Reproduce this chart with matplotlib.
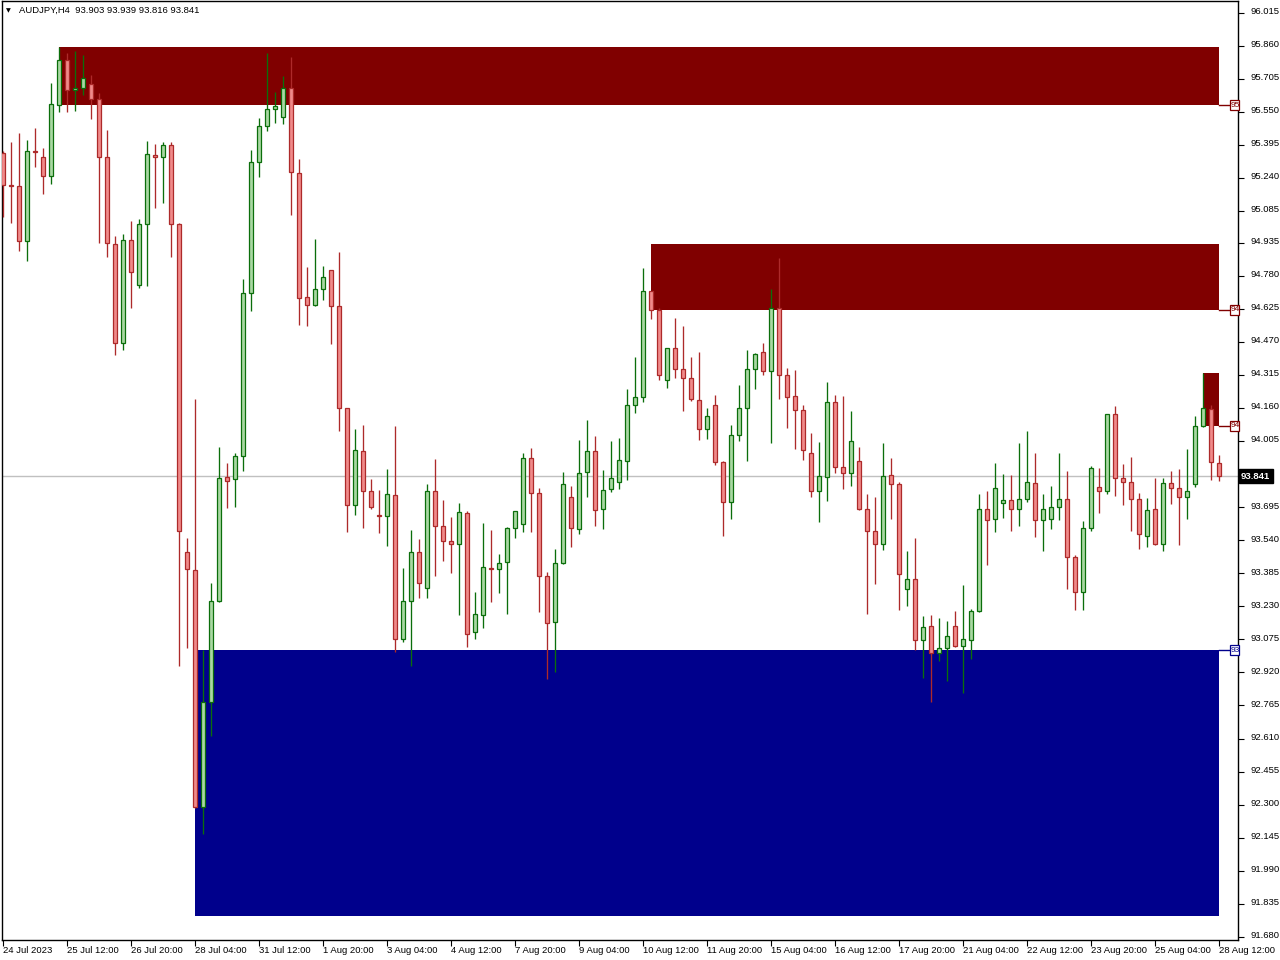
import numpy as np
import matplotlib
matplotlib.use("Agg")
import matplotlib.pyplot as plt
from matplotlib.patches import Rectangle
import matplotlib.transforms as mtransforms

plt.rcParams['font.family'] = ['Liberation Sans', 'DejaVu Sans']

symbol = "AUDJPY,H4"
last_ohlc = [93.903, 93.939, 93.816, 93.841]
current_price = 93.841

opens = [95.354, 95.207, 95.200, 94.942, 95.365, 95.336, 95.247, 95.580, 95.791, 95.650,
         95.659, 95.678, 95.608, 95.336, 94.931, 94.466, 94.946, 94.739, 95.025, 95.348,
         95.339, 95.392, 95.025, 93.486, 93.402, 92.288, 92.779, 93.254, 93.835, 93.826,
         93.933, 94.699, 95.315, 95.481, 95.561, 95.523, 95.659, 95.262, 94.679, 94.642,
         94.717, 94.806, 94.637, 94.159, 93.704, 93.957, 93.769, 93.658, 93.652, 93.750,
         93.075, 93.253, 93.483, 93.314, 93.769, 93.605, 93.535, 93.521, 93.666, 93.108,
         93.188, 93.411, 93.403, 93.436, 93.596, 93.614, 93.924, 93.760, 93.371, 93.155,
         93.432, 93.743, 93.591, 93.860, 93.957, 93.685, 93.779, 93.811, 93.910, 94.173,
         94.210, 94.709, 94.618, 94.290, 94.440, 94.341, 94.299, 94.196, 94.060, 94.173,
         93.905, 93.719, 94.032, 94.159, 94.341, 94.421, 94.332, 94.628, 94.313, 94.215,
         94.149, 93.947, 93.769, 93.835, 94.187, 93.883, 93.855, 93.910, 93.685, 93.582,
         93.521, 93.844, 93.802, 93.310, 93.357, 93.070, 93.136, 93.009, 93.033, 93.136,
         93.042, 93.070, 93.206, 93.685, 93.638, 93.713, 93.727, 93.685, 93.732, 93.807,
         93.633, 93.638, 93.694, 93.732, 93.461, 93.296, 93.596, 93.788, 93.769, 94.130,
         93.830, 93.811, 93.732, 93.558, 93.685, 93.521, 93.807, 93.783, 93.743, 93.802,
         94.074, 94.154, 93.903]

highs = [95.365, 95.407, 95.450, 95.417, 95.473, 95.379, 95.684, 95.854, 95.823, 95.833,
         95.815, 95.722, 95.636, 95.464, 94.965, 94.976, 95.039, 95.048, 95.412, 95.398,
         95.407, 95.407, 95.030, 93.550, 94.202, 93.027, 93.338, 93.977, 93.901, 93.947,
         94.765, 95.370, 95.519, 95.823, 95.643, 95.717, 95.805, 95.328, 94.821, 94.951,
         94.825, 94.808, 94.890, 94.162, 94.060, 94.080, 93.826, 93.775, 93.874, 94.075,
         93.408, 93.586, 93.544, 93.802, 93.919, 93.727, 93.649, 93.713, 93.677, 93.295,
         93.619, 93.588, 93.474, 93.600, 93.677, 93.949, 93.971, 93.783, 93.389, 93.497,
         93.860, 93.793, 94.008, 94.102, 94.027, 93.869, 94.004, 94.018, 94.248, 94.398,
         94.817, 94.711, 94.628, 94.442, 94.581, 94.543, 94.400, 94.424, 94.159, 94.219,
         93.910, 94.079, 94.266, 94.431, 94.416, 94.463, 94.717, 94.863, 94.348, 94.337,
         94.173, 94.041, 93.999, 94.280, 94.219, 94.215, 94.144, 93.976, 93.755, 93.743,
         93.994, 93.924, 93.811, 93.488, 93.549, 93.183, 93.188, 93.174, 93.160, 93.206,
         93.328, 93.216, 93.755, 93.769, 93.901, 93.849, 93.844, 93.994, 94.051, 93.947,
         93.755, 93.793, 93.947, 93.863, 93.470, 93.629, 93.888, 93.879, 94.132, 94.169,
         93.896, 93.929, 93.760, 93.736, 93.830, 93.830, 93.863, 93.874, 93.966, 94.121,
         94.324, 94.173, 93.939]

lows = [95.057, 95.029, 94.898, 94.851, 95.292, 95.165, 95.212, 95.550, 95.550, 95.554,
        95.629, 95.517, 94.935, 94.868, 94.407, 94.430, 94.628, 94.721, 94.734, 95.100,
        95.123, 94.866, 92.948, 93.036, 92.284, 92.161, 92.620, 93.250, 93.691, 93.697,
        93.864, 94.616, 95.245, 95.460, 95.498, 95.493, 95.066, 94.551, 94.546, 94.640,
        94.668, 94.460, 94.053, 93.580, 93.660, 93.599, 93.685, 93.575, 93.514, 93.017,
        93.064, 92.951, 93.269, 93.269, 93.373, 93.444, 93.387, 93.191, 93.040, 93.078,
        93.130, 93.251, 93.294, 93.195, 93.551, 93.580, 93.580, 93.205, 92.890, 92.923,
        93.430, 93.509, 93.570, 93.743, 93.608, 93.594, 93.765, 93.779, 93.821, 94.135,
        94.187, 94.579, 94.293, 94.254, 94.302, 94.147, 94.191, 94.008, 94.016, 93.891,
        93.561, 93.638, 94.004, 93.910, 94.251, 94.313, 93.994, 94.204, 94.065, 93.969,
        93.915, 93.743, 93.624, 93.722, 93.855, 93.779, 93.793, 93.680, 93.192, 93.333,
        93.493, 93.638, 93.215, 93.233, 93.024, 92.892, 92.780, 92.972, 92.882, 93.038,
        92.823, 92.984, 93.203, 93.422, 93.577, 93.643, 93.582, 93.605, 93.720, 93.556,
        93.491, 93.594, 93.636, 93.312, 93.211, 93.214, 93.582, 93.669, 93.755, 93.749,
        93.706, 93.584, 93.500, 93.507, 93.519, 93.488, 93.711, 93.519, 93.638, 93.789,
        94.070, 93.821, 93.816]

closes = [95.206, 95.201, 94.942, 95.364, 95.361, 95.247, 95.584, 95.791, 95.650, 95.659,
          95.706, 95.608, 95.336, 94.932, 94.465, 94.946, 94.796, 95.021, 95.353, 95.339,
          95.392, 95.025, 93.582, 93.404, 92.288, 92.779, 93.257, 93.834, 93.816, 93.933,
          94.699, 95.312, 95.481, 95.561, 95.575, 95.659, 95.265, 94.674, 94.642, 94.717,
          94.773, 94.637, 94.159, 93.704, 93.962, 93.769, 93.694, 93.653, 93.755, 93.075,
          93.253, 93.483, 93.338, 93.769, 93.605, 93.535, 93.521, 93.671, 93.099, 93.192,
          93.413, 93.406, 93.434, 93.596, 93.675, 93.924, 93.760, 93.371, 93.150, 93.432,
          93.802, 93.596, 93.855, 93.957, 93.680, 93.774, 93.830, 93.915, 94.173, 94.210,
          94.709, 94.618, 94.313, 94.440, 94.341, 94.299, 94.201, 94.060, 94.121, 93.905,
          93.719, 94.032, 94.159, 94.341, 94.412, 94.332, 94.628, 94.313, 94.210, 94.149,
          93.962, 93.769, 93.840, 94.187, 93.883, 93.855, 94.004, 93.685, 93.582, 93.521,
          93.840, 93.802, 93.380, 93.357, 93.070, 93.131, 93.009, 93.033, 93.089, 93.042,
          93.075, 93.206, 93.685, 93.633, 93.783, 93.727, 93.685, 93.732, 93.811, 93.633,
          93.685, 93.694, 93.732, 93.461, 93.296, 93.596, 93.879, 93.769, 94.130, 93.830,
          93.811, 93.732, 93.568, 93.680, 93.521, 93.807, 93.783, 93.743, 93.769, 94.074,
          94.159, 93.905, 93.841]

date_labels = ["24 Jul 2023", "25 Jul 12:00", "26 Jul 20:00", "28 Jul 04:00", "31 Jul 12:00",
               "1 Aug 20:00", "3 Aug 04:00", "4 Aug 12:00", "7 Aug 20:00", "9 Aug 04:00",
               "10 Aug 12:00", "11 Aug 20:00", "15 Aug 04:00", "16 Aug 12:00", "17 Aug 20:00",
               "21 Aug 04:00", "22 Aug 12:00", "23 Aug 20:00", "25 Aug 04:00", "28 Aug 12:00"]
date_label_bars = [0, 8, 16, 24, 32, 40, 48, 56, 64, 72, 80, 88, 96, 104, 112, 120, 128, 136, 144, 152]

price_ticks = [96.015, 95.860, 95.705, 95.550, 95.395, 95.240, 95.085, 94.935, 94.780, 94.625,
               94.470, 94.315, 94.160, 94.005, 93.695, 93.540, 93.385, 93.230, 93.075, 92.920,
               92.765, 92.610, 92.455, 92.300, 92.145, 91.990, 91.835, 91.680]

# zones: (start bar, low price, high price)
supply_zones = [(7, 95.580, 95.851), (81, 94.621, 94.929), (150, 94.077, 94.323)]
demand_zones = [(24, 91.777, 93.025)]

# ---------------- figure ----------------
W, H = 1280, 960
fig = plt.figure(figsize=(12.8, 9.6), dpi=100, facecolor='white')
ax_l, ax_r, ax_t, ax_b = 2, 1238, 1, 940
ax = fig.add_axes([ax_l / W, (H - ax_b) / H, (ax_r - ax_l) / W, (ax_b - ax_t) / H])
ax.set_facecolor('white')

n = len(opens)
x = np.arange(n)
o = np.array(opens); h = np.array(highs); l = np.array(lows); c = np.array(closes)
up = c >= o

bull_fill, bull_edge = '#a9d8a3', '#0b6e0b'
bear_fill, bear_edge = '#f08a8a', '#ad2a2a'
supply_col, demand_col = '#800000', '#00008c'

last_bar = n - 1
for start, lo, hi in supply_zones:
    ax.add_patch(Rectangle((start, lo), last_bar - start, hi - lo, facecolor=supply_col,
                           edgecolor='none', zorder=1))
for start, lo, hi in demand_zones:
    ax.add_patch(Rectangle((start, lo), last_bar - start, hi - lo, facecolor=demand_col,
                           edgecolor='none', zorder=1))

ax.axhline(current_price, color='#c0c0c0', lw=1.0, zorder=2)

edges = np.where(up, bull_edge, bear_edge)
fills = np.where(up, bull_fill, bear_fill)
ax.vlines(x, l, h, colors=edges, lw=0.95, zorder=3)
body_h = np.maximum(np.abs(c - o), 0.003)
body_b = np.minimum(o, c)
ax.bar(x, body_h, bottom=body_b, width=0.5, color=fills, edgecolor=edges,
       linewidth=0.9, zorder=4)

ax.set_xlim((ax_l - 3.3) / 8.0, (ax_r - 3.3) / 8.0)
ax.set_ylim(91.665, 96.069)

for s in ax.spines.values():
    s.set_color('black')
    s.set_linewidth(1.0)

ax.yaxis.tick_right()
ax.set_yticks(price_ticks)
ax.set_yticklabels([f"{p:.3f}" for p in price_ticks])
ax.tick_params(axis='y', direction='out', length=4, width=0.8, pad=5, labelsize=6.8,
               colors='black')
ax.set_xticks(date_label_bars)
ax.set_xticklabels(date_labels, ha='left')
ax.tick_params(axis='x', direction='out', length=4, width=0.8, pad=0.5, labelsize=6.8,
               colors='black')
shift_up = mtransforms.ScaledTranslation(0, 1.5 / 72, fig.dpi_scale_trans)
for lab in ax.get_yticklabels():
    lab.set_transform(lab.get_transform() + shift_up)

blend = mtransforms.blended_transform_factory(ax.transAxes, ax.transData)

def px_ax(px):
    return (px - ax_l) / (ax_r - ax_l)

# current price label
ax.text(px_ax(1241), current_price, f"{current_price:.3f}", transform=blend, ha='left',
        va='center', color='white', fontsize=6.8, fontweight='bold', clip_on=False,
        bbox=dict(boxstyle='square,pad=0.25', facecolor='black', edgecolor='black'), zorder=10)

# zone line labels (price labels partially hidden behind the price scale)
line_prices = [(z[1], supply_col) for z in supply_zones] + [(z[2], demand_col) for z in demand_zones]
for price, col in line_prices:
    ax.plot([last_bar, (1230 - 3.3) / 8.0], [price, price], color=col, lw=1.0,
            zorder=5, clip_on=False)
    rect = Rectangle((px_ax(1230), price - 0.0235), px_ax(1239) - px_ax(1230), 0.047,
                     transform=blend, facecolor='white', edgecolor=col, lw=0.9,
                     clip_on=False, zorder=6)
    ax.add_patch(rect)
    ax.text(px_ax(1231), price, f"{price:.3f}"[:2], transform=blend, ha='left', va='center',
            color=col, fontsize=6.0, zorder=7, clip_on=False)

# title
fig.text(19 / W, 1 - 10.5 / H, f"{symbol}  {last_ohlc[0]:.3f} {last_ohlc[1]:.3f} "
         f"{last_ohlc[2]:.3f} {last_ohlc[3]:.3f}", ha='left', va='center', fontsize=6.8,
         color='black')
fig.text(8 / W, 1 - 10.5 / H, "\u25BC", ha='center', va='center', fontsize=4.5,
         color='black', family=['DejaVu Sans'])

fig.savefig('out.png', dpi=100, facecolor='white')
